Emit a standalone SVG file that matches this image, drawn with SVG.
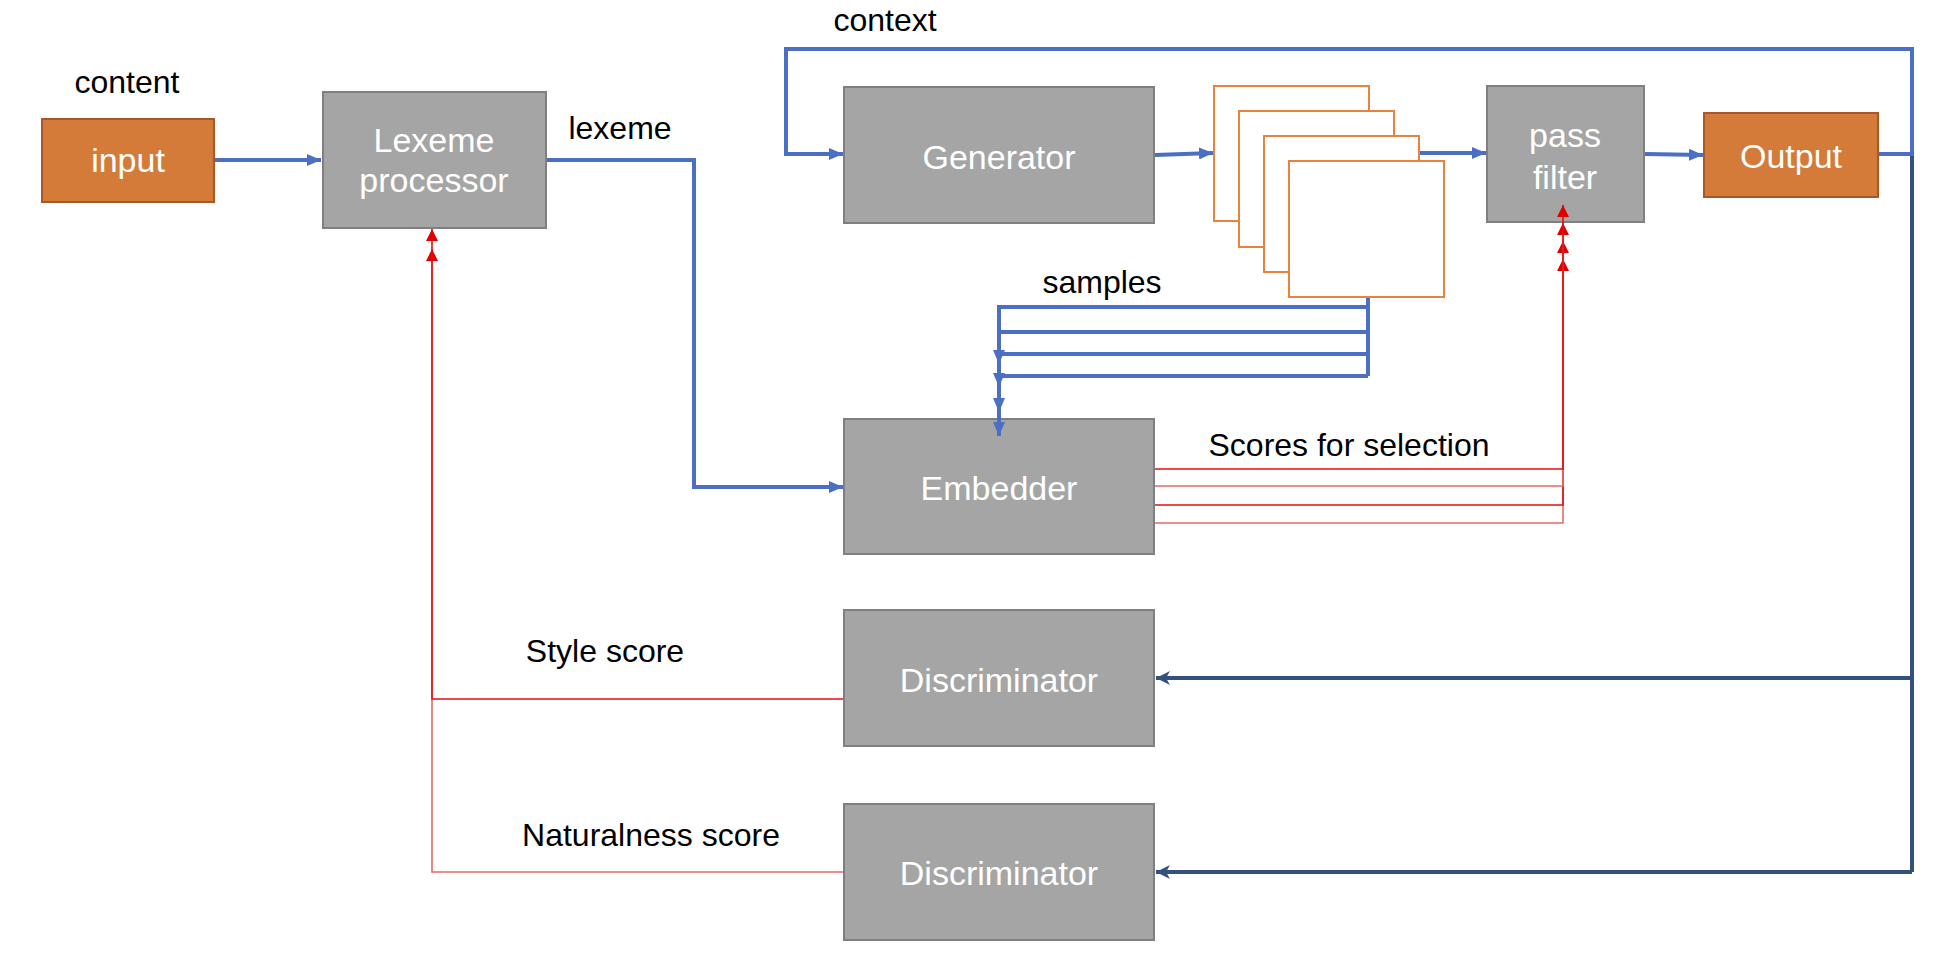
<svg xmlns="http://www.w3.org/2000/svg" width="1937" height="960" viewBox="0 0 1937 960">
<style>
.box{fill:#A5A5A5;stroke:#7F7F7F;stroke-width:2}
.obox{fill:#D47B3A;stroke:#A5592A;stroke-width:2}
.frame{fill:#FFFFFF;stroke:#E8823E;stroke-width:2}
.wt{font-family:"Liberation Sans",Arial,sans-serif;font-size:34px;fill:#FFFFFF;text-anchor:middle}
.bt{font-family:"Liberation Sans",Arial,sans-serif;font-size:32px;fill:#000000;text-anchor:middle}
.blue{fill:none;stroke:#4A6FC4;stroke-width:4}
.navy{fill:none;stroke:#34507F;stroke-width:4}
.red{fill:none;stroke:#E01010;stroke-width:1.6}
.lred{fill:none;stroke:#E86A6A;stroke-width:1.6}
</style>
<defs>
<marker id="ab" markerUnits="userSpaceOnUse" markerWidth="14" markerHeight="12" refX="14" refY="6" orient="auto">
<path d="M0,0 L14,6 L0,12 z" fill="#4A6FC4"/>
</marker>
<marker id="an" markerUnits="userSpaceOnUse" markerWidth="14" markerHeight="14" refX="14" refY="7" orient="auto">
<path d="M0,0 L14,7 L0,14 L4,7 z" fill="#34507F"/>
</marker>
<marker id="ar" markerUnits="userSpaceOnUse" markerWidth="12" markerHeight="12" refX="12" refY="6" orient="auto">
<path d="M0,0 L12,6 L0,12 z" fill="#E00000"/>
</marker>
</defs>
<rect width="1937" height="960" fill="#FFFFFF"/>

<g id="label-content"><text class="bt" x="127" y="93">content</text></g>
<g id="label-lexeme"><text class="bt" x="620" y="139">lexeme</text></g>
<g id="label-context"><text class="bt" x="885" y="31">context</text></g>
<g id="label-samples"><text class="bt" x="1102" y="293">samples</text></g>
<g id="label-scores"><text class="bt" x="1349" y="456">Scores for selection</text></g>
<g id="label-style"><text class="bt" x="605" y="662">Style score</text></g>
<g id="label-naturalness"><text class="bt" x="651" y="846">Naturalness score</text></g>

<g id="input"><rect class="obox" x="42" y="119" width="172" height="83"/><text class="wt" x="128" y="172">input</text></g>
<g id="lexeme-processor"><rect class="box" x="323" y="92" width="223" height="136"/><text class="wt" x="434" y="152">Lexeme</text><text class="wt" x="434" y="192">processor</text></g>
<g id="generator"><rect class="box" x="844" y="87" width="310" height="136"/><text class="wt" x="999" y="169">Generator</text></g>
<g id="samples-stack">
<rect class="frame" x="1214" y="86" width="155" height="135"/>
<rect class="frame" x="1239" y="111" width="155" height="136"/>
<rect class="frame" x="1264" y="136" width="155" height="136"/>
<rect class="frame" x="1289" y="161" width="155" height="136"/>
</g>
<g id="pass-filter"><rect class="box" x="1487" y="86" width="157" height="136"/><text class="wt" x="1565" y="147">pass</text><text class="wt" x="1565" y="189">filter</text></g>
<g id="output"><rect class="obox" x="1704" y="113" width="174" height="84"/><text class="wt" x="1791" y="168">Output</text></g>
<g id="embedder"><rect class="box" x="844" y="419" width="310" height="135"/><text class="wt" x="999" y="500">Embedder</text></g>
<g id="discriminator-style"><rect class="box" x="844" y="610" width="310" height="136"/><text class="wt" x="999" y="692">Discriminator</text></g>
<g id="discriminator-naturalness"><rect class="box" x="844" y="804" width="310" height="136"/><text class="wt" x="999" y="885">Discriminator</text></g>

<g id="connectors">
<path class="blue" d="M215,160 L321,160" marker-end="url(#ab)"/>
<path class="blue" d="M547,160 L694,160 L694,487 L843,487" marker-end="url(#ab)"/>
<path class="blue" d="M1879,154 L1912,154 L1912,49 L786,49 L786,154 L843,154" marker-end="url(#ab)"/>
<path class="blue" d="M1155,155 L1213,153" marker-end="url(#ab)"/>
<path class="blue" d="M1420,153 L1486,153" marker-end="url(#ab)"/>
<path class="blue" d="M1645,154 L1703,155" marker-end="url(#ab)"/>
<path class="blue" d="M1368,298 L1368,376"/>
<path class="blue" d="M1368,376 L999,376 L999,436" marker-end="url(#ab)"/>
<path class="blue" d="M1368,354 L999,354 L999,412" marker-end="url(#ab)"/>
<path class="blue" d="M1368,332 L999,332 L999,387" marker-end="url(#ab)"/>
<path class="blue" d="M1368,307 L999,307 L999,364" marker-end="url(#ab)"/>
<path class="navy" d="M1912,156 L1912,872"/>
<path class="navy" d="M1912,678 L1156,678" marker-end="url(#an)"/>
<path class="navy" d="M1912,872 L1156,872" marker-end="url(#an)"/>
<path class="lred" d="M1155,523 L1563,523 L1563,259" marker-end="url(#ar)"/>
<path class="red" d="M1155,505 L1563,505 L1563,241" marker-end="url(#ar)"/>
<path class="lred" d="M1155,486 L1563,486 L1563,223" marker-end="url(#ar)"/>
<path class="red" d="M1155,469 L1563,469 L1563,205" marker-end="url(#ar)"/>
<path class="lred" d="M843,872 L432,872 L432,249" marker-end="url(#ar)"/>
<path class="red" d="M843,699 L432,699 L432,229" marker-end="url(#ar)"/>
</g>
</svg>
